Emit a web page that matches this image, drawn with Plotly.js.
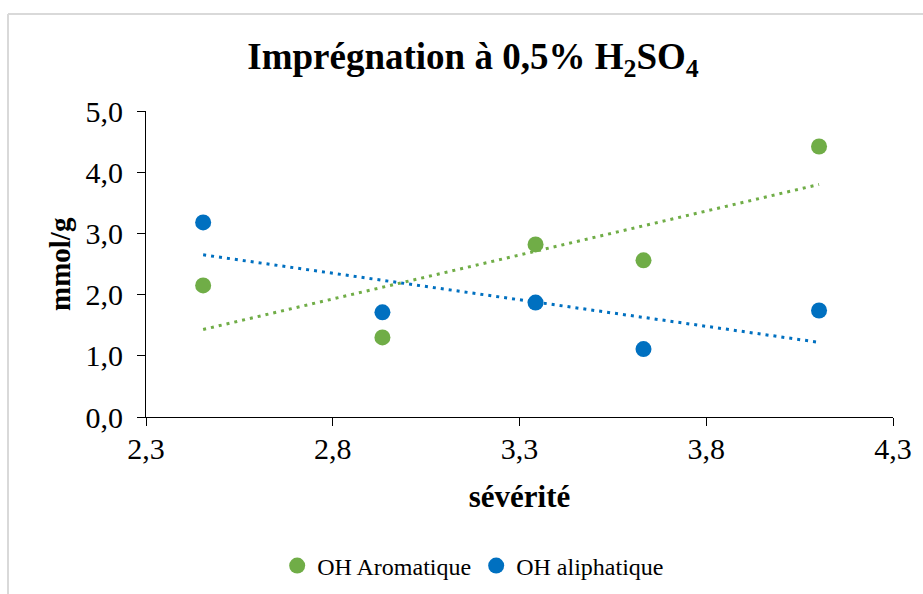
<!DOCTYPE html>
<html>
<head>
<meta charset="utf-8">
<script src="https://cdn.plot.ly/plotly-3.0.1.min.js"></script>
<style>
  html, body { margin: 0; padding: 0; background: #fff; }
  #chart { width: 923px; height: 594px; }
</style>
</head>
<body>
<div id="chart"></div>
<script>
// Data
const severite = [2.453, 2.933, 3.343, 3.632, 4.102];
const ohAromatique = [2.15, 1.30, 2.82, 2.56, 4.42];
const ohAliphatique = [3.18, 1.71, 1.87, 1.11, 1.74];

// Trendline endpoints (as drawn in the reference)
const trendX = [2.453, 4.102];
const trendAromatique = [1.43, 3.80];
const trendAliphatique = [2.65, 1.22];

const seriesNames = ["OH Aromatique", "OH aliphatique"];
const xTicks = [2.3, 2.8, 3.3, 3.8, 4.3];
const xTickLabels = ["2,3", "2,8", "3,3", "3,8", "4,3"];
const yTicks = [0, 1, 2, 3, 4, 5];
const yTickLabels = ["0,0", "1,0", "2,0", "3,0", "4,0", "5,0"];

const GREEN = "#70AD47";
const BLUE = "#0070C0";
const FONT = "Liberation Serif, Times New Roman, serif";

const traces = [
  {
    x: trendX, y: trendAromatique, mode: "lines", showlegend: false, hoverinfo: "skip",
    line: { color: GREEN, width: 3, dash: "3px,5px" }
  },
  {
    x: trendX, y: trendAliphatique, mode: "lines", showlegend: false, hoverinfo: "skip",
    line: { color: BLUE, width: 3, dash: "3px,5px" }
  },
  {
    x: severite, y: ohAromatique, mode: "markers", name: seriesNames[0],
    marker: { color: GREEN, size: 16 }
  },
  {
    x: severite, y: ohAliphatique, mode: "markers", name: seriesNames[1],
    marker: { color: BLUE, size: 16 }
  }
];

const layout = {
  width: 923, height: 594,
  margin: { l: 146, r: 30, t: 111, b: 177, autoexpand: false },
  paper_bgcolor: "#fff", plot_bgcolor: "#fff",
  font: { family: FONT, color: "#000" },
  title: {
    text: "<b>Imprégnation à 0,5% H<sub>2</sub>SO<sub>4</sub></b>",
    font: { family: FONT, size: 37, color: "#000" },
    xref: "container", x: 0.5125, xanchor: "center",
    yref: "container", y: 0.906, yanchor: "middle"
  },
  xaxis: {
    range: [2.3, 4.3], tickvals: xTicks, ticktext: xTickLabels,
    showgrid: false, zeroline: false, automargin: false,
    showline: true, linecolor: "#000", linewidth: 1,
    ticks: "outside", ticklen: 8, tickcolor: "#000", tickwidth: 1,
    ticklabelstandoff: -3,
    tickfont: { family: FONT, size: 30, color: "#000" },
    title: { text: "<b>sévérité</b>", font: { family: FONT, size: 31, color: "#000" }, standoff: 21 }
  },
  yaxis: {
    range: [0, 5], tickvals: yTicks, ticktext: yTickLabels,
    showgrid: false, zeroline: false, automargin: false,
    showline: true, linecolor: "#000", linewidth: 1,
    ticks: "outside", ticklen: 8, tickcolor: "#000", tickwidth: 1,
    ticklabelstandoff: 8,
    tickfont: { family: FONT, size: 30, color: "#000" }
  },
  annotations: [
    { text: "<b>mmol/g</b>", textangle: -90, showarrow: false,
      xref: "paper", x: (60 - 146) / 747, xanchor: "center",
      yref: "paper", y: 0.5, yanchor: "middle",
      font: { family: FONT, size: 29, color: "#000" } }
  ],
  legend: {
    orientation: "h", x: 0.438, xanchor: "center",
    yref: "container", y: 1 - 566 / 594, yanchor: "middle",
    font: { family: FONT, size: 24, color: "#000" },
    itemwidth: 30, bgcolor: "rgba(0,0,0,0)"
  },
  shapes: [
    { type: "line", xref: "paper", yref: "paper",
      x0: (8 - 146) / 747, x1: (8 - 146) / 747, y0: (417 - 14) / 306, y1: (417 - 600) / 306,
      line: { color: "#D9D9D9", width: 2 } },
    { type: "line", xref: "paper", yref: "paper",
      x0: (8 - 146) / 747, x1: (930 - 146) / 747, y0: (417 - 14) / 306, y1: (417 - 14) / 306,
      line: { color: "#D9D9D9", width: 2 } }
  ]
};

Plotly.newPlot("chart", traces, layout, { displayModeBar: false, staticPlot: true });
</script>
</body>
</html>
